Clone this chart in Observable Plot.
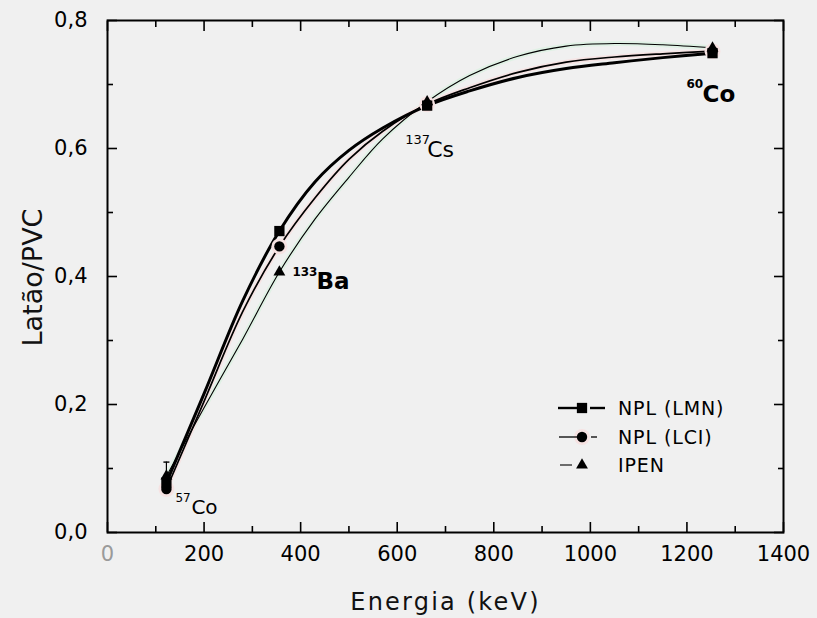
<!DOCTYPE html>
<html>
<head>
<meta charset="utf-8">
<script src="https://cdn.jsdelivr.net/npm/d3@7"></script>
<script src="https://cdn.jsdelivr.net/npm/@observablehq/plot@0.6"></script>
<style>
  html, body { margin: 0; padding: 0; background: #f0f0f0; }
  #chart svg { display: block; background: #f0f0f0; }
</style>
</head>
<body>
<div id="chart"></div>
<script>
const energies = [122, 356, 662, 1253];           // keV: 57Co, 133Ba, 137Cs, 60Co
const nplLMN   = [0.078, 0.471, 0.667, 0.749];
const nplLCI   = [0.068, 0.447, 0.669, 0.752];
const ipen     = [0.088, 0.407, 0.673, 0.757];
const ipenErr  = [0.022, 0.004, 0.004, 0.004];

// ---- Fitted curves, values ----
const fitEnergies = [122, 200, 280, 356, 430, 500, 570, 662, 750, 850, 950, 1050, 1150, 1253];
const fitLMN  = [0.078, 0.217, 0.362, 0.471, 0.548, 0.597, 0.632, 0.667, 0.690, 0.711, 0.725, 0.734, 0.742, 0.749];
const fitLCI  = [0.068, 0.205, 0.345, 0.447, 0.523, 0.583, 0.627, 0.669, 0.695, 0.719, 0.735, 0.743, 0.748, 0.752];
const fitIPEN = [0.088, 0.195, 0.302, 0.407, 0.490, 0.555, 0.615, 0.673, 0.714, 0.744, 0.760, 0.764, 0.762, 0.757];

const isotopeMass = ["57", "133", "137", "60"];
const isotopeElem = ["Co", "Ba", "Cs", "Co"];
const seriesNames = ["NPL (LMN)", "NPL (LCI)", "IPEN"];
const xTicks = [0, 200, 400, 600, 800, 1000, 1200, 1400];
const xMinor = [100, 300, 500, 700, 900, 1100, 1300];
const yTicks = [0, 0.2, 0.4, 0.6, 0.8];
const yMinor = [0.1, 0.3, 0.5, 0.7];

const rows = (xs, vals, name) => xs.map((e, i) => ({energy: e, value: vals[i], series: name, i}));
const lmn = rows(energies, nplLMN, seriesNames[0]);
const lci = rows(energies, nplLCI, seriesNames[1]);
const ipn = rows(energies, ipen, seriesNames[2]).map((d, i) => ({...d, lo: d.value - ipenErr[i], hi: d.value + ipenErr[i]}));
const fLMN = rows(fitEnergies, fitLMN, seriesNames[0]);
const fLCI = rows(fitEnergies, fitLCI, seriesNames[1]);
const fIPEN = rows(fitEnergies, fitIPEN, seriesNames[2]);

const fmtY = d => d.toFixed(1).replace(".", ",");
const FONT = "DejaVu Sans, Verdana, sans-serif";
const CURVE = "catmull-rom";

// small horizontal cap symbol for the error bar
const capSymbol = {draw(ctx) { ctx.moveTo(-3, 0); ctx.lineTo(3, 0); }};

// isotope labels anchored at LMN points, offsets in pixels
const labelIdx = [0, 1, 2, 3];
const massOff = [[9, 19], [13, 45], [-22, 38], [-26, 35]];
const elemOff = [[25, 31], [37, 58], [0, 51], [-10, 49]];
const bold = [false, true, false, true];
const elemSize = [20, 23, 22, 23];
const massSize = [12, 12, 13, 12];

const labelMarks = [];
labelIdx.forEach(k => {
  labelMarks.push(Plot.text([k], {
    x: i => energies[i], y: i => nplLMN[i], text: i => isotopeMass[i],
    dx: massOff[k][0], dy: massOff[k][1], textAnchor: "start", lineAnchor: "bottom",
    fontSize: massSize[k], fontWeight: bold[k] ? "bold" : "normal", fill: "black"
  }));
  labelMarks.push(Plot.text([k], {
    x: i => energies[i], y: i => nplLMN[i], text: i => isotopeElem[i],
    dx: elemOff[k][0], dy: elemOff[k][1], textAnchor: "start", lineAnchor: "bottom",
    fontSize: elemSize[k], fontWeight: bold[k] ? "bold" : "normal", fill: "black"
  }));
});

const chart = Plot.plot({
  width: 817,
  height: 618,
  marginLeft: 107,
  marginRight: 34,
  marginTop: 20,
  marginBottom: 86,
  style: {fontFamily: FONT, fontSize: "21px", background: "#f0f0f0", color: "black", overflow: "visible"},
  x: {type: "linear", domain: [0, 1400], label: null},
  y: {type: "linear", domain: [0, 0.8], label: null},
  marks: [
    // halos (pale tint around LCI / IPEN curves as in the scan)
    Plot.line(fIPEN, {x: "energy", y: "value", curve: CURVE, stroke: "#e0f1e5", strokeWidth: 5}),
    Plot.line(fLCI, {x: "energy", y: "value", curve: CURVE, stroke: "#f6e4e4", strokeWidth: 5}),
    // fitted curves
    Plot.line(fIPEN, {x: "energy", y: "value", curve: CURVE, stroke: "black", strokeWidth: 1.1}),
    Plot.line(fLCI, {x: "energy", y: "value", curve: CURVE, stroke: "black", strokeWidth: 1.7}),
    Plot.line(fLMN, {x: "energy", y: "value", curve: CURVE, stroke: "black", strokeWidth: 3}),
    // error bars
    Plot.ruleX(ipn, {x: "energy", y1: "lo", y2: "hi", stroke: "black", strokeWidth: 1.2}),
    Plot.dot(ipn.filter((d, i) => ipenErr[i] > 0.01), {x: "energy", y: "hi", symbol: capSymbol, stroke: "black", strokeWidth: 1.4, fill: "none"}),
    // markers
    Plot.dot(lci, {x: "energy", y: "value", r: 8, fill: "#f6e2e2", stroke: null}),
    Plot.dot(lmn, {x: "energy", y: "value", symbol: "square", r: 5.8, fill: "black", stroke: null}),
    Plot.dot(lci, {x: "energy", y: "value", symbol: "circle", r: 5.2, fill: "black", stroke: null}),
    Plot.dot(ipn, {x: "energy", y: "value", symbol: "triangle", r: 4.4, fill: "black", stroke: null}),
    ...labelMarks,
    // axes: labels
    Plot.axisX(xTicks, {anchor: "bottom", tickSize: 0, tickPadding: 14, tickFormat: d => String(d), label: null}),
    Plot.axisY(yTicks, {anchor: "left", tickSize: 0, tickPadding: 20, tickFormat: fmtY, label: null}),
    // inward ticks on all four sides
    Plot.axisX(xTicks, {anchor: "bottom", tickSize: -10, text: null, label: null, strokeWidth: 1.6}),
    Plot.axisX(xMinor, {anchor: "bottom", tickSize: -6, text: null, label: null, strokeWidth: 1.6}),
    Plot.axisX(xTicks, {anchor: "top", tickSize: -10, text: null, label: null, strokeWidth: 1.6}),
    Plot.axisX(xMinor, {anchor: "top", tickSize: -6, text: null, label: null, strokeWidth: 1.6}),
    Plot.axisY(yTicks, {anchor: "left", tickSize: -10, text: null, label: null, strokeWidth: 1.6}),
    Plot.axisY(yMinor, {anchor: "left", tickSize: -6, text: null, label: null, strokeWidth: 1.6}),
    Plot.axisY(yTicks, {anchor: "right", tickSize: -10, text: null, label: null, strokeWidth: 1.6}),
    Plot.axisY(yMinor, {anchor: "right", tickSize: -6, text: null, label: null, strokeWidth: 1.6}),
    Plot.frame({stroke: "black", strokeWidth: 2}),
    // axis titles
    Plot.text(["Energia (keV)"], {frameAnchor: "bottom", dy: 77, textAnchor: "middle", lineAnchor: "bottom", fontSize: 24, fill: "#111"}),
    Plot.text(["Latão/PVC"], {frameAnchor: "left", dx: -66, dy: 1, rotate: -90, textAnchor: "middle", lineAnchor: "bottom", fontSize: 27, fill: "#111"})
  ]
});

const svg = d3.select(chart);
// letter spacing on the x title, grey "0" tick label
svg.selectAll("text").filter(function() { return this.textContent === "Energia (keV)"; })
   .style("letter-spacing", "2.2px");
svg.selectAll("g[aria-label='x-axis tick label'] text").filter(function() { return this.textContent === "0"; })
   .attr("fill", "#9a9a9a");

// legend, placed relative to the plot frame (bottom-right corner)
const frameRight = 817 - 34, frameBottom = 618 - 86;
const lg = svg.append("g").attr("font-family", FONT).attr("font-size", 19).attr("text-anchor", "start");
const rowsY = [-124, -95, -67];
const markX = -201, textX = -165;
const shapes = [d3.symbolSquare, d3.symbolCircle, d3.symbolTriangle];
const sizes = [Math.PI * 5.8 * 5.8, Math.PI * 5.2 * 5.2, Math.PI * 4.4 * 4.4];
const segs = [[[-225, -206], [-193, -178]], [[-224, -206], [-192, -186]], [[-223, -211]]];
const segW = [2.4, 1.3, 1.1];
seriesNames.forEach((name, k) => {
  const y = frameBottom + rowsY[k];
  if (k === 1) lg.append("circle").attr("cx", frameRight + markX).attr("cy", y).attr("r", 8).attr("fill", "#f6e2e2");
  segs[k].forEach(([a, b]) => lg.append("line")
    .attr("x1", frameRight + a).attr("x2", frameRight + b).attr("y1", y).attr("y2", y)
    .attr("stroke", "black").attr("stroke-width", segW[k]));
  lg.append("path").attr("d", d3.symbol(shapes[k], sizes[k])())
    .attr("transform", `translate(${frameRight + markX},${y})`).attr("fill", "black");
  lg.append("text").attr("x", frameRight + textX).attr("y", y).attr("dy", "0.35em")
    .attr("text-anchor", "start").attr("fill", "black").style("letter-spacing", "0.9px").text(name);
});

document.getElementById("chart").appendChild(chart);
</script>
</body>
</html>
